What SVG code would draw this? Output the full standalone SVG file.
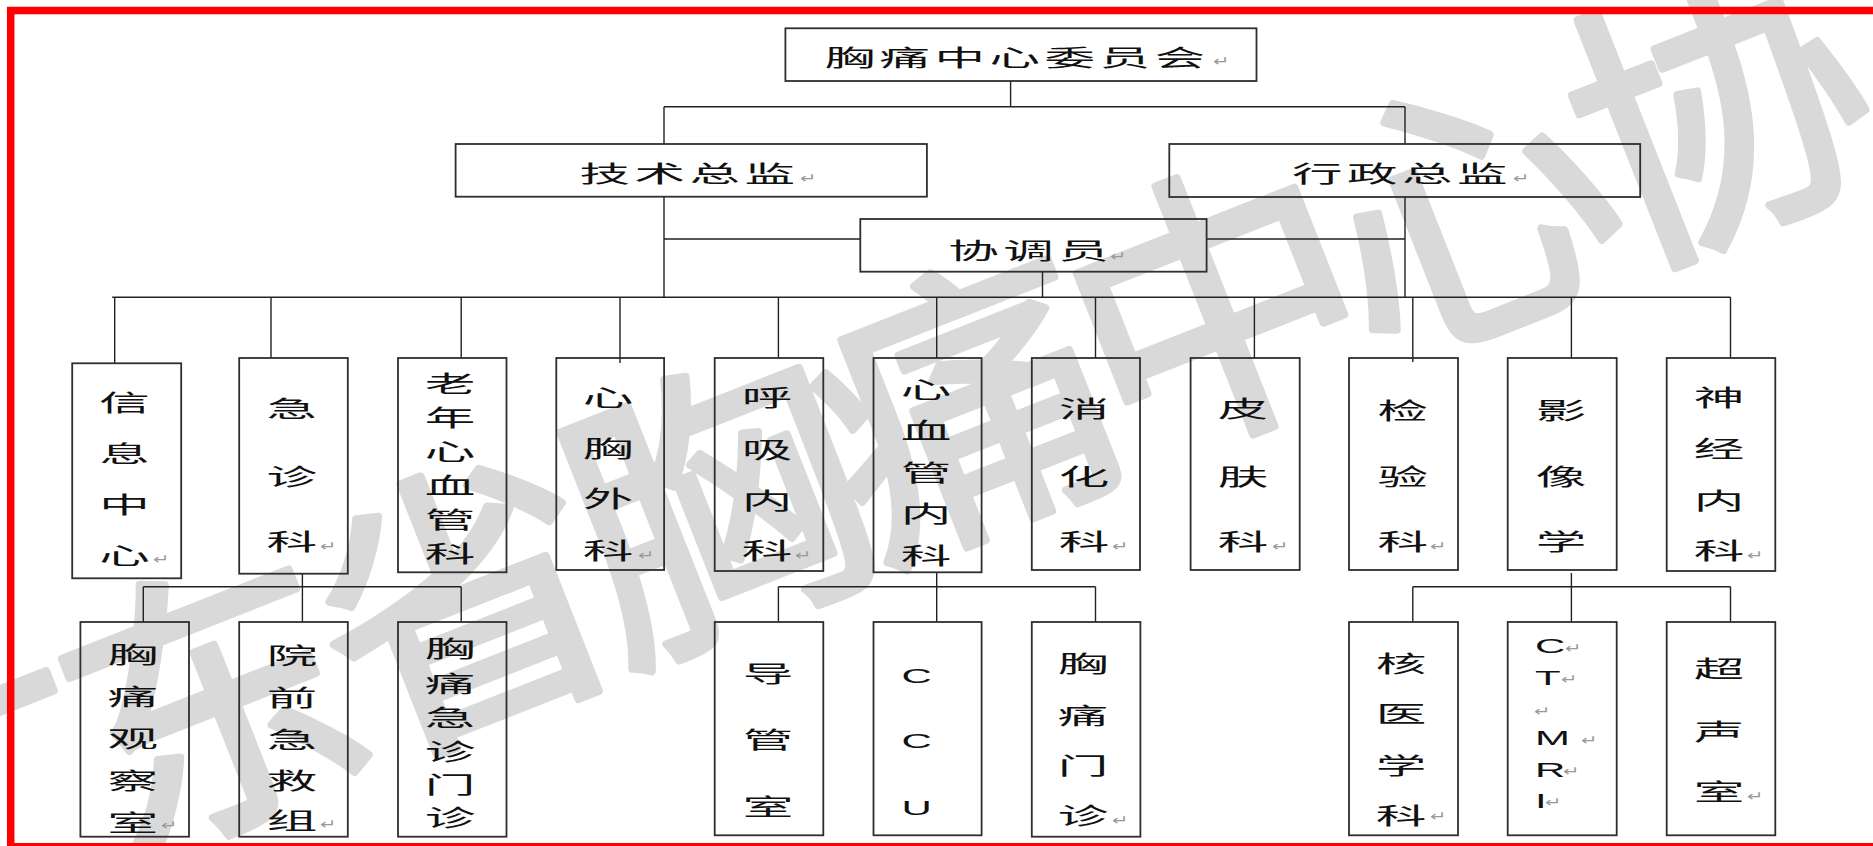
<svg xmlns="http://www.w3.org/2000/svg" width="1873" height="846" viewBox="0 0 1873 846">
<style>
.box{fill:none;stroke:#2e2e2e;stroke-width:1.8}
.ln{fill:none;stroke:#222;stroke-width:1.4}
.t{font-family:"Noto Sans CJK SC","Noto Sans CJK JP",sans-serif;font-size:23px;fill:#111;text-anchor:middle;letter-spacing:2px}
.v{font-family:"Noto Sans CJK SC","Noto Sans CJK JP",sans-serif;font-size:23px;fill:#111;text-anchor:middle}
.lat{font-family:"Liberation Sans",Arial,sans-serif;font-size:21px;fill:#111}
.pm{font-family:"DejaVu Sans",sans-serif;font-size:14px;fill:#999}
.wm{font-family:"Noto Sans CJK SC","Noto Sans CJK JP",sans-serif;font-size:290px;fill:#d9d9d9;stroke:#d9d9d9;stroke-width:8;stroke-linejoin:round;letter-spacing:-20px}
.red{stroke:#ff0000;fill:none}
</style>
<rect x="0" y="0" width="1873" height="846" fill="#ffffff"/>
<g id="watermark">
<text class="wm" transform="translate(212,705) rotate(-21.5)" x="-415" y="107">广东省胸痛中心协</text>
</g>
<g id="border">
<line class="red" x1="7" y1="10.5" x2="1873" y2="10.5" stroke-width="7.5"/>
<line class="red" x1="10.7" y1="7" x2="10.7" y2="846" stroke-width="7.5"/>
<line class="red" x1="7" y1="845" x2="1873" y2="845" stroke-width="4"/>
</g>
<g id="connectors">
<path class="ln" d="M1010.6,81 V106.7 M664,106.7 H1405 M664,106.7 V144 M1405,106.7 V144"/>
<path class="ln" d="M664,196.7 V297.3 M1405,197 V297.3 M664,239 H860.3 M1206.6,239 H1405 M1042.5,271.7 V297.3"/>
<path class="ln" d="M112.2,297.3 H1730.5 M114.7,297.3 V363.3 M271,297.3 V358 M461.2,297.3 V358 M620,297.3 V363 M778.4,297.3 V358 M936.7,297.3 V358 M1095.5,297.3 V358 M1254.4,297.3 V358 M1412.8,297.3 V362 M1571.4,297.3 V358 M1730.5,297.3 V358"/>
<path class="ln" d="M302.4,573.7 V622 M143.3,586.7 H461.2 M143.3,586.7 V622 M461.2,586.7 V622"/>
<path class="ln" d="M936.7,572.3 V622 M778.4,586.7 H1095.5 M778.4,586.7 V622 M1095.5,586.7 V622"/>
<path class="ln" d="M1571.4,573 V622 M1412.8,586.7 H1730.5 M1412.8,586.7 V622 M1730.5,586.7 V622"/>
</g>
<g id="n-committee">
<rect class="box" x="785.4" y="28.3" width="471.1" height="52.7"/>
<text class="t" transform="translate(1017,66) scale(2.2,1)">胸痛中心委员会</text>
<text class="pm" transform="translate(1213,66) scale(1.4,1)">↵</text>
</g>
<g id="n-tech">
<rect class="box" x="455.6" y="144" width="471.3" height="52.7"/>
<text class="t" transform="translate(689.5,182) scale(2.2,1)">技术总监</text>
<text class="pm" transform="translate(800,183) scale(1.4,1)">↵</text>
</g>
<g id="n-admin">
<rect class="box" x="1169.3" y="144" width="470.9" height="53"/>
<text class="t" transform="translate(1402,182) scale(2.2,1)">行政总监</text>
<text class="pm" transform="translate(1513,183) scale(1.4,1)">↵</text>
</g>
<g id="n-coord">
<rect class="box" x="860.3" y="219" width="346.3" height="52.7"/>
<text class="t" transform="translate(1030.7,259) scale(2.2,1)">协调员</text>
<text class="pm" transform="translate(1110,261) scale(1.4,1)">↵</text>
</g>
<g id="n-info">
<rect class="box" x="72.2" y="363.3" width="109" height="215"/>
<text class="v" transform="translate(124.5,0) scale(2.2,1)"><tspan x="0" y="411">信</tspan><tspan x="0" y="462">息</tspan><tspan x="0" y="513">中</tspan><tspan x="0" y="564">心</tspan></text>
<text class="pm" transform="translate(153,564) scale(1.4,1)">↵</text>
</g>
<g id="n-emerg">
<rect class="box" x="239.2" y="358" width="108.6" height="215.7"/>
<text class="v" transform="translate(291.7,0) scale(2.2,1)"><tspan x="0" y="417">急</tspan><tspan x="0" y="485">诊</tspan><tspan x="0" y="550">科</tspan></text>
<text class="pm" transform="translate(320,551) scale(1.4,1)">↵</text>
</g>
<g id="n-geri">
<rect class="box" x="398" y="358" width="108.5" height="214.3"/>
<text class="v" transform="translate(450,0) scale(2.2,1)"><tspan x="0" y="392">老</tspan><tspan x="0" y="426">年</tspan><tspan x="0" y="460">心</tspan><tspan x="0" y="494">血</tspan><tspan x="0" y="528">管</tspan><tspan x="0" y="562">科</tspan></text>
</g>
<g id="n-cts">
<rect class="box" x="556.3" y="358" width="107.8" height="212"/>
<text class="v" transform="translate(608,0) scale(2.2,1)"><tspan x="0" y="406">心</tspan><tspan x="0" y="457">胸</tspan><tspan x="0" y="507">外</tspan><tspan x="0" y="559">科</tspan></text>
<text class="pm" transform="translate(638,560) scale(1.4,1)">↵</text>
</g>
<g id="n-resp">
<rect class="box" x="714.7" y="358" width="108.6" height="213"/>
<text class="v" transform="translate(767,0) scale(2.2,1)"><tspan x="0" y="406">呼</tspan><tspan x="0" y="458">吸</tspan><tspan x="0" y="509">内</tspan><tspan x="0" y="559">科</tspan></text>
<text class="pm" transform="translate(795,560) scale(1.4,1)">↵</text>
</g>
<g id="n-cardio">
<rect class="box" x="873.5" y="358" width="108.1" height="214.3"/>
<text class="v" transform="translate(926,0) scale(2.2,1)"><tspan x="0" y="398">心</tspan><tspan x="0" y="439">血</tspan><tspan x="0" y="481">管</tspan><tspan x="0" y="522">内</tspan><tspan x="0" y="564">科</tspan></text>
</g>
<g id="n-gastro">
<rect class="box" x="1031.8" y="358" width="108.2" height="212"/>
<text class="v" transform="translate(1084,0) scale(2.2,1)"><tspan x="0" y="417">消</tspan><tspan x="0" y="485">化</tspan><tspan x="0" y="550">科</tspan></text>
<text class="pm" transform="translate(1112,551) scale(1.4,1)">↵</text>
</g>
<g id="n-derm">
<rect class="box" x="1190.6" y="358" width="109.1" height="212"/>
<text class="v" transform="translate(1243,0) scale(2.2,1)"><tspan x="0" y="417">皮</tspan><tspan x="0" y="485">肤</tspan><tspan x="0" y="550">科</tspan></text>
<text class="pm" transform="translate(1272,551) scale(1.4,1)">↵</text>
</g>
<g id="n-lab">
<rect class="box" x="1349" y="358" width="109" height="212"/>
<text class="v" transform="translate(1402.7,0) scale(2.2,1)"><tspan x="0" y="419">检</tspan><tspan x="0" y="485">验</tspan><tspan x="0" y="550">科</tspan></text>
<text class="pm" transform="translate(1430,551) scale(1.4,1)">↵</text>
</g>
<g id="n-imaging">
<rect class="box" x="1507.7" y="358" width="109" height="212"/>
<text class="v" transform="translate(1561,0) scale(2.2,1)"><tspan x="0" y="419">影</tspan><tspan x="0" y="485">像</tspan><tspan x="0" y="550">学</tspan></text>
</g>
<g id="n-neuro">
<rect class="box" x="1666.7" y="358" width="108.6" height="213"/>
<text class="v" transform="translate(1719,0) scale(2.2,1)"><tspan x="0" y="406">神</tspan><tspan x="0" y="457">经</tspan><tspan x="0" y="509">内</tspan><tspan x="0" y="559">科</tspan></text>
<text class="pm" transform="translate(1747,560) scale(1.4,1)">↵</text>
</g>
<g id="n-obs">
<rect class="box" x="80.4" y="622" width="108.6" height="214.7"/>
<text class="v" transform="translate(132.7,0) scale(2.2,1)"><tspan x="0" y="663">胸</tspan><tspan x="0" y="705">痛</tspan><tspan x="0" y="747">观</tspan><tspan x="0" y="789">察</tspan><tspan x="0" y="831">室</tspan></text>
<text class="pm" transform="translate(161,830) scale(1.4,1)">↵</text>
</g>
<g id="n-prehosp">
<rect class="box" x="239.2" y="622" width="108.6" height="214.7"/>
<text class="v" transform="translate(292,0) scale(2.2,1)"><tspan x="0" y="664">院</tspan><tspan x="0" y="706">前</tspan><tspan x="0" y="748">急</tspan><tspan x="0" y="789">救</tspan><tspan x="0" y="829">组</tspan></text>
<text class="pm" transform="translate(320,829) scale(1.4,1)">↵</text>
</g>
<g id="n-cper">
<rect class="box" x="398" y="622" width="108.5" height="214.7"/>
<text class="v" transform="translate(450,0) scale(2.2,1)"><tspan x="0" y="657">胸</tspan><tspan x="0" y="692">痛</tspan><tspan x="0" y="726">急</tspan><tspan x="0" y="760">诊</tspan><tspan x="0" y="793">门</tspan><tspan x="0" y="826">诊</tspan></text>
</g>
<g id="n-cathlab">
<rect class="box" x="714.7" y="622" width="108.6" height="213.3"/>
<text class="v" transform="translate(768,0) scale(2.2,1)"><tspan x="0" y="682">导</tspan><tspan x="0" y="748">管</tspan><tspan x="0" y="815">室</tspan></text>
</g>
<g id="n-ccu">
<rect class="box" x="873.5" y="622" width="108.1" height="213.3"/>
<text class="lat" transform="translate(901.6,0) scale(2,1)"><tspan x="0" y="683">C</tspan><tspan x="0" y="748">C</tspan><tspan x="0" y="815">U</tspan></text>
</g>
<g id="n-cpclinic">
<rect class="box" x="1031.8" y="622" width="108.6" height="214.7"/>
<text class="v" transform="translate(1083,0) scale(2.2,1)"><tspan x="0" y="672">胸</tspan><tspan x="0" y="724">痛</tspan><tspan x="0" y="774">门</tspan><tspan x="0" y="824">诊</tspan></text>
<text class="pm" transform="translate(1112,825) scale(1.4,1)">↵</text>
</g>
<g id="n-nuclear">
<rect class="box" x="1349" y="622" width="109" height="213.3"/>
<text class="v" transform="translate(1401,0) scale(2.2,1)"><tspan x="0" y="672">核</tspan><tspan x="0" y="722">医</tspan><tspan x="0" y="774">学</tspan><tspan x="0" y="824">科</tspan></text>
<text class="pm" transform="translate(1430,821) scale(1.4,1)">↵</text>
</g>
<g id="n-ctmri">
<rect class="box" x="1507.7" y="622" width="109" height="213.3"/>
<text class="lat" transform="translate(1535,0) scale(2,1)"><tspan x="0" y="653">C</tspan><tspan x="0" y="685">T</tspan><tspan x="0" y="745">M</tspan><tspan x="0" y="777">R</tspan><tspan x="0" y="808">I</tspan></text>
<text class="pm" transform="translate(1565,653) scale(1.4,1)">↵</text>
<text class="pm" transform="translate(1561,684) scale(1.4,1)">↵</text>
<text class="pm" transform="translate(1534,716) scale(1.4,1)">↵</text>
<text class="pm" transform="translate(1581,745) scale(1.4,1)">↵</text>
<text class="pm" transform="translate(1563,776) scale(1.4,1)">↵</text>
<text class="pm" transform="translate(1545,807) scale(1.4,1)">↵</text>
</g>
<g id="n-echo">
<rect class="box" x="1666.7" y="622" width="108.6" height="213.3"/>
<text class="v" transform="translate(1719,0) scale(2.2,1)"><tspan x="0" y="677">超</tspan><tspan x="0" y="740">声</tspan><tspan x="0" y="800">室</tspan></text>
<text class="pm" transform="translate(1747,801) scale(1.4,1)">↵</text>
</g>
</svg>
